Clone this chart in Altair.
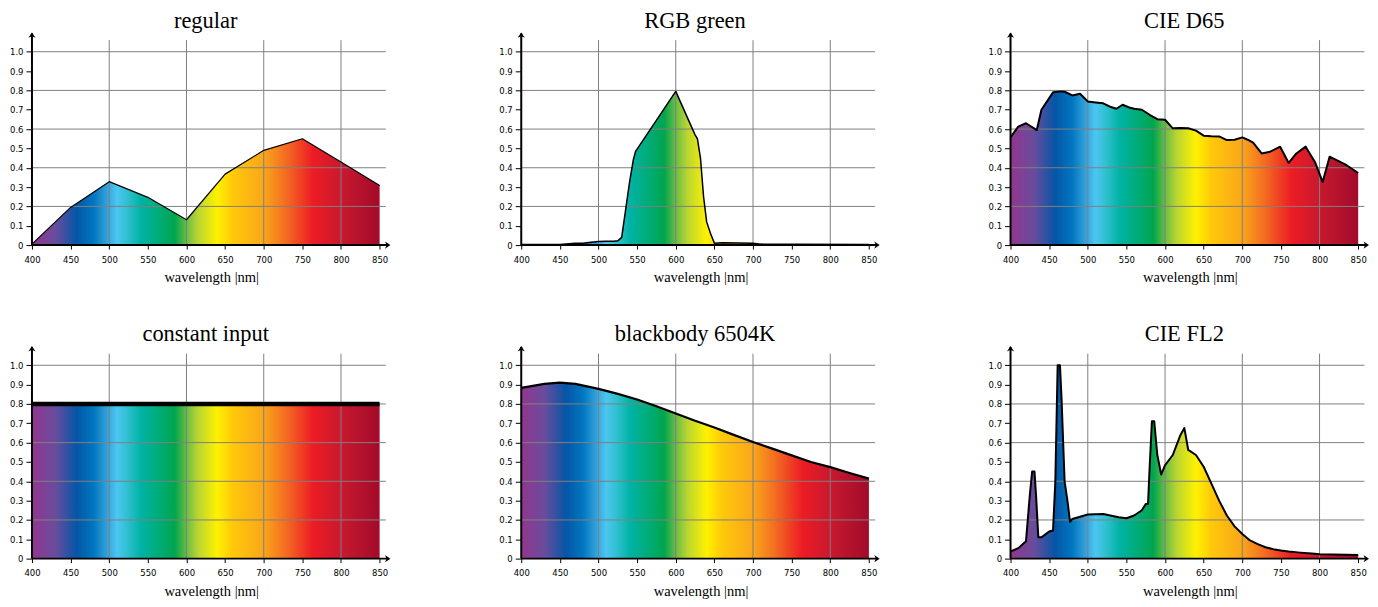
import altair as alt
import pandas as pd

# ---------------- data ----------------
WL_REGULAR = [400, 450, 500, 550, 600, 650, 700, 750, 800, 850]
VAL_REGULAR = [0.005, 0.195, 0.328, 0.247, 0.131, 0.367, 0.49, 0.55, 0.43, 0.308]

WL_RGB_GREEN = [400, 450, 470, 480, 490, 500, 510, 520, 525, 530, 535, 540, 545, 548,
                600, 625, 628, 632, 636, 640, 645, 650, 660, 700, 710, 750, 850]
VAL_RGB_GREEN = [0.003, 0.003, 0.01, 0.01, 0.015, 0.018, 0.02, 0.02, 0.022, 0.04, 0.18, 0.32, 0.44, 0.485,
                 0.795, 0.57, 0.55, 0.45, 0.25, 0.12, 0.06, 0.01, 0.012, 0.01, 0.005, 0.004, 0.003]

WL_D65 = [400, 410, 420, 434, 440, 455, 465, 470, 480, 490, 500, 510, 520, 530, 537, 545, 555,
          560, 570, 580, 590, 600, 610, 620, 630, 640, 650, 660, 670, 680, 690, 700, 707, 714,
          725, 736, 749, 760, 770, 782, 794, 804, 813, 824, 835, 850]
VAL_D65 = [0.557, 0.613, 0.63, 0.595, 0.70, 0.79, 0.795, 0.793, 0.774, 0.783, 0.743, 0.738, 0.733,
           0.714, 0.705, 0.726, 0.71, 0.705, 0.70, 0.674, 0.651, 0.648, 0.604, 0.605, 0.604, 0.592,
           0.566, 0.563, 0.562, 0.543, 0.545, 0.557, 0.545, 0.53, 0.474, 0.483, 0.509, 0.425, 0.474,
           0.509, 0.43, 0.326, 0.457, 0.436, 0.413, 0.373]

WL_CONSTANT = [400, 850]
VAL_CONSTANT = [0.8, 0.8]

WL_BLACKBODY = [400, 430, 450, 470, 500, 525, 550, 575, 600, 625, 650, 675, 700, 725, 750,
                775, 800, 825, 850]
VAL_BLACKBODY = [0.883, 0.904, 0.91, 0.904, 0.878, 0.852, 0.823, 0.788, 0.751, 0.713, 0.678,
                 0.64, 0.603, 0.569, 0.534, 0.50, 0.473, 0.443, 0.414]

WL_FL2 = [400, 410, 420, 425, 428, 431, 433, 436, 440, 450, 455, 458, 461, 464, 466, 470, 474,
          477, 480, 500, 520, 540, 550, 560, 570, 575, 578, 580, 583, 586, 590, 595, 600, 610,
          620, 625, 630, 640, 650, 660, 670, 680, 690, 700, 710, 720, 730, 740, 750, 760, 775,
          790, 800, 850]
VAL_FL2 = [0.037, 0.054, 0.09, 0.33, 0.45, 0.45, 0.33, 0.11, 0.11, 0.14, 0.145, 0.40, 1.0, 1.0,
           0.83, 0.40, 0.29, 0.19, 0.205, 0.228, 0.231, 0.214, 0.209, 0.223, 0.25, 0.283, 0.283,
           0.466, 0.71, 0.71, 0.536, 0.435, 0.483, 0.536, 0.64, 0.675, 0.562, 0.536, 0.475,
           0.388, 0.30, 0.223, 0.167, 0.127, 0.094, 0.075, 0.059, 0.049, 0.042, 0.037, 0.031,
           0.026, 0.023, 0.019]

# spectral colour stops (wavelength -> colour)
GRAD_WL = [400, 430, 458, 480, 495, 510, 525, 541, 585, 600, 615, 640, 660, 700, 727, 764, 800, 850]
GRAD_COLORS = ["#92368F", "#6A4C9C", "#0556A6", "#0077C0", "#2E9CD8", "#4CC6F1", "#2CBFCB",
               "#00B3A5", "#00A54F", "#6ABD45", "#BAD532", "#FFF100", "#FFC90A", "#FAA61A",
               "#F37021", "#EC1C24", "#C8192F", "#A20B2A"]

X_TICKS = [400, 450, 500, 550, 600, 650, 700, 750, 800, 850]
Y_TICKS = [0, 0.1, 0.2, 0.3, 0.4, 0.5, 0.6, 0.7, 0.8, 0.9, 1.0]
H_GRID = [0.2, 0.4, 0.6, 0.8, 1.0]
V_GRID = [500, 600, 700, 800]

# ---------------- style ----------------
W, H = 359, 213
X_DOMAIN = [400, 864]
Y_DOMAIN = [0, 1.1]
GRID_COLOR = "#808080"
SERIF = "Liberation Serif"
SANS = "DejaVu Sans"

GRADIENT = alt.Gradient(
    gradient="linear",
    stops=[alt.GradientStop(color=c, offset=(w - 400) / 450.0) for w, c in zip(GRAD_WL, GRAD_COLORS)],
    x1=0, x2=1, y1=0, y2=0,
)

XS = alt.Scale(domain=X_DOMAIN, nice=False, zero=False)
YS = alt.Scale(domain=Y_DOMAIN, nice=False, zero=False)
XAXIS = alt.Axis(values=X_TICKS, title="wavelength |nm|", grid=False, domain=False,
                 ticks=True, tickSize=4, tickColor="black", tickWidth=1,
                 labelFont=SANS, labelFontSize=8.5, labelColor="black", labelPadding=6,
                 labelFlush=False, labelOverlap=False,
                 titleFont=SERIF, titleFontSize=14.5, titleFontWeight="normal",
                 titleColor="black", titlePadding=7)
YAXIS = alt.Axis(values=Y_TICKS, title=None, grid=False, domain=False,
                 ticks=True, tickSize=6, tickColor="black", tickWidth=1,
                 labelFont=SANS, labelFontSize=8.5, labelColor="black", labelPadding=3,
                 labelOverlap=False,
                 labelExpr="datum.value == 0 ? '0' : format(datum.value, '.1f')")

ARROW_RIGHT = "M0,0L-2,-1.3L-1.4,0L-2,1.3Z"
ARROW_UP = "M0,0L-1.3,2L0,1.4L1.3,2Z"


def enc_x(field):
    return alt.X(field, scale=XS, axis=XAXIS)


def enc_y(field):
    return alt.Y(field, scale=YS, axis=YAXIS)


def panel(title, wl, vals, lw):
    df = pd.DataFrame({"wl": wl, "v": vals})

    area = alt.Chart(df).mark_area(fill=GRADIENT, interpolate="linear").encode(
        x=enc_x("wl:Q"), y=enc_y("v:Q"))
    line = alt.Chart(df).mark_line(color="black", strokeWidth=lw, strokeJoin="round").encode(
        x=enc_x("wl:Q"), y=enc_y("v:Q"))
    hgrid = alt.Chart(pd.DataFrame({"wl": [400] * len(H_GRID), "wl2": [858] * len(H_GRID), "v": H_GRID})
                      ).mark_rule(color=GRID_COLOR, strokeWidth=1).encode(
        x=enc_x("wl:Q"), x2="wl2:Q", y=enc_y("v:Q"))
    vgrid = alt.Chart(pd.DataFrame({"wl": V_GRID, "v": [0] * len(V_GRID), "v2": [1.06] * len(V_GRID)})
                      ).mark_rule(color=GRID_COLOR, strokeWidth=1).encode(
        x=enc_x("wl:Q"), y=enc_y("v:Q"), y2="v2:Q")
    xline = alt.Chart(pd.DataFrame({"wl": [400], "wl2": [861], "v": [0]})).mark_rule(
        color="black", strokeWidth=2).encode(
        x=enc_x("wl:Q"), x2="wl2:Q", y=enc_y("v:Q"))
    yline = alt.Chart(pd.DataFrame({"wl": [400], "v": [0], "v2": [1.095]})).mark_rule(
        color="black", strokeWidth=2).encode(
        x=enc_x("wl:Q"), y=enc_y("v:Q"), y2="v2:Q")
    xarrow = alt.Chart(pd.DataFrame({"wl": [864], "v": [0]})).mark_point(
        shape=ARROW_RIGHT, size=30, filled=True, color="black", strokeWidth=0.5,
        opacity=1).encode(x=enc_x("wl:Q"), y=enc_y("v:Q"))
    yarrow = alt.Chart(pd.DataFrame({"wl": [400], "v": [1.1]})).mark_point(
        shape=ARROW_UP, size=30, filled=True, color="black", strokeWidth=0.5,
        opacity=1).encode(x=enc_x("wl:Q"), y=enc_y("v:Q"))

    return alt.layer(area, vgrid, hgrid, line, xline, yline, xarrow, yarrow).properties(
        width=W, height=H,
        title=alt.TitleParams(title, font=SERIF, fontSize=22.5, fontWeight="normal", color="black",
                              anchor="middle", dx=-5.5, offset=-18, baseline="alphabetic"),
    )


panels = [
    panel("regular", WL_REGULAR, VAL_REGULAR, 1.2),
    panel("RGB green", WL_RGB_GREEN, VAL_RGB_GREEN, 1.5),
    panel("CIE D65", WL_D65, VAL_D65, 2),
    panel("constant input", WL_CONSTANT, VAL_CONSTANT, 4.5),
    panel("blackbody 6504K", WL_BLACKBODY, VAL_BLACKBODY, 2.2),
    panel("CIE FL2", WL_FL2, VAL_FL2, 2),
]

chart = alt.concat(*panels, columns=3, spacing={"row": 101, "column": 131}, bounds="flush").properties(
    padding={"left": 0, "top": 0, "right": 0, "bottom": 0}
).configure_view(stroke="transparent")

chart.save("out.html", embed_options={"renderer": "svg", "actions": False})
